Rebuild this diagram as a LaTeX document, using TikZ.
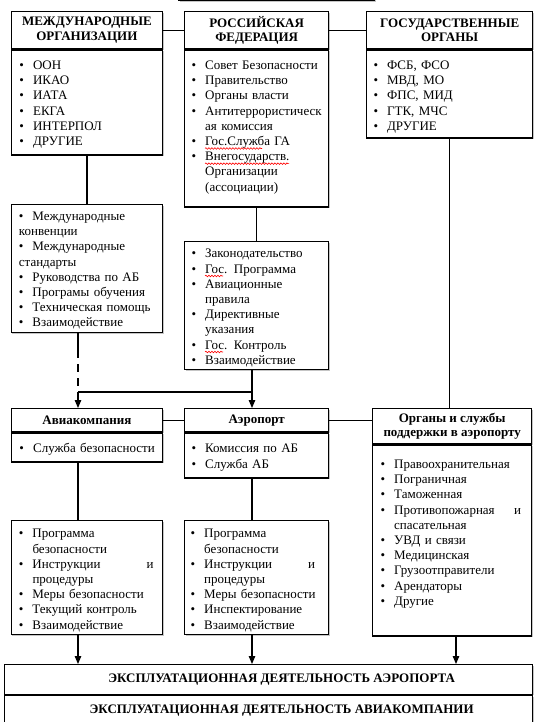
\documentclass[tikz,border=0pt]{standalone}
\usepackage{fontspec}
\setmainfont{Liberation Serif}
\usetikzlibrary{arrows.meta,shadows,decorations.pathmorphing}

\newcommand{\itm}{\makebox[13.6pt][l]{\textbullet}}
\newcommand{\cnt}{\hspace*{13.6pt}}
\newcommand{\jst}[3]{\makebox[#1][l]{#2\hfill#3}}

\tikzset{
  box/.style={draw, line width=1.3pt, fill=white, anchor=north west, inner sep=0pt,
    drop shadow={shadow xshift=1.3pt, shadow yshift=-1.3pt, fill=black!45}},
  head/.style={box, font=\fontsize{13}{14.5}\selectfont\bfseries, align=center},
  lst/.style={anchor=base west, inner sep=0pt, text width=#1, align=left},
  link/.style={line width=1.2pt},
  arr/.style={link, -{Triangle[length=8pt,width=6.5pt]}},
  spell/.style={red, line width=0.6pt, decorate, decoration={snake, amplitude=0.8pt, segment length=3pt}}
}

\begin{document}
\begin{tikzpicture}[x=1pt,y=-1pt,font=\fontsize{13}{15.2}\selectfont]
\useasboundingbox (0,0) rectangle (544,722);

% upper block (cut off)
\node[box, anchor=south west, minimum width=196pt, minimum height=30pt] (tp) at (178,1.5) {};

% top row
\node[head, minimum width=151.5pt, minimum height=37pt] (moh) at (10.5,11) {МЕЖДУНАРОДНЫЕ\\ОРГАНИЗАЦИИ};
\node[box, minimum width=151.5pt, minimum height=105pt] (mob) at (moh.south west) {};
\node[lst=140pt] (mot) at (19.3,69.5) {\itm ООН\\\itm ИКАО\\\itm ИАТА\\\itm ЕКГА\\\itm ИНТЕРПОЛ\\\itm ДРУГИЕ};

\node[head, minimum width=144pt, minimum height=37pt] (rfh) at (184,11) {РОССИЙСКАЯ\\ФЕДЕРАЦИЯ};
\node[box, minimum width=144pt, minimum height=157pt] (rfb) at (rfh.south west) {};
\node[lst=134pt] (rft) at (191.4,69.5) {\itm Совет Безопасности\\\itm Правительство\\\itm Органы власти\\
  \itm Антитеррористическ\\\cnt ая комиссия\\\itm Гос.Служба ГА\\\itm Внегосударств.\\
  \cnt Организации\\\cnt (ассоциации)};

\node[head, minimum width=166pt, minimum height=37pt] (goh) at (366,11) {ГОСУДАРСТВЕННЫЕ\\ОРГАНЫ};
\node[box, minimum width=166pt, minimum height=88pt] (gob) at (goh.south west) {};
\node[lst=150pt] (got) at (373.3,69.5) {\itm ФСБ, ФСО\\\itm МВД, МО\\\itm ФПС, МИД\\\itm ГТК, МЧС\\\itm ДРУГИЕ};

% second row
\node[box, minimum width=151.5pt, minimum height=128pt] (conv) at (10.5,204) {};
\node[lst=140pt] (cvt) at (18.7,220.5) {\itm Международные\\конвенции\\\itm Международные\\стандарты\\
  \itm Руководства по АБ\\\itm Програмы обучения\\\itm Техническая помощь\\\itm Взаимодействие};

\node[box, minimum width=144pt, minimum height=128pt] (law) at (184,241) {};
\node[lst=134pt] (lwt) at (191.4,257.8) {\itm Законодательство\\\itm Гос. Программа\\\itm Авиационные\\
  \cnt правила\\\itm Директивные\\\cnt указания\\\itm Гос. Контроль\\\itm Взаимодействие};

% spell marks
\draw[spell] (205,148.5) -- (262,148.5);
\draw[spell] (205,163.7) -- (289,163.7);
\draw[spell] (205,276) -- (223,276);
\draw[spell] (205,352) -- (223,352);

% third row
\node[head, minimum width=151.5pt, minimum height=23pt] (avh) at (10.5,408) {Авиакомпания};
\node[box, minimum width=151.5pt, minimum height=29pt] (avb) at (avh.south west) {};
\node[lst=140pt] (avt) at (19.3,452.8) {\itm Служба безопасности};

\node[head, minimum width=144pt, minimum height=23pt] (aph) at (184,408) {Аэропорт};
\node[box, minimum width=144pt, minimum height=45pt] (apb) at (aph.south west) {};
\node[lst=134pt] (apt) at (191.4,452.8) {\itm Комиссия по АБ\\\itm Служба АБ};

\node[head, minimum width=159pt, minimum height=35pt] (orgh) at (372,408) {Органы и службы\\поддержки в аэропорту};
\node[box, minimum width=159pt, minimum height=191pt] (orgb) at (orgh.south west) {};
\node[lst=150pt] (ort) at (380.4,468.5) {\itm Правоохранительная\\\itm Пограничная\\\itm Таможенная\\
  \itm\jst{127pt}{Противопожарная}{и}\\\cnt спасательная\\\itm УВД и связи\\\itm Медицинская\\
  \itm Грузоотправители\\\itm Арендаторы\\\itm Другие};

% fourth row
\node[box, minimum width=151.5pt, minimum height=114pt] (avl) at (10.5,520) {};
\node[lst=140pt] (avlt) at (18.7,537.8) {\itm Программа\\\cnt безопасности\\\itm\jst{121pt}{Инструкции}{и}\\
  \cnt процедуры\\\itm Меры безопасности\\\itm Текущий контроль\\\itm Взаимодействие};

\node[box, minimum width=144pt, minimum height=114pt] (apl) at (184,520) {};
\node[lst=134pt] (aplt) at (190.4,537.8) {\itm Программа\\\cnt безопасности\\\itm\jst{111pt}{Инструкции}{и}\\
  \cnt процедуры\\\itm Меры безопасности\\\itm Инспектирование\\\itm Взаимодействие};

% bottom
\node[box, minimum width=528.5pt, minimum height=29.5pt, font=\fontsize{13}{15}\selectfont\bfseries] (ops) at (3.5,664)
  {\hspace*{26.5pt}ЭКСПЛУАТАЦИОННАЯ ДЕЯТЕЛЬНОСТЬ АЭРОПОРТА};
\node[box, minimum width=528.5pt, text height=18pt, text depth=24pt, font=\fontsize{13}{15}\selectfont\bfseries] (opsb) at (ops.south west)
  {\hspace*{26.5pt}ЭКСПЛУАТАЦИОННАЯ ДЕЯТЕЛЬНОСТЬ АВИАКОМПАНИИ};

% links
\coordinate (jd) at (78,350);
\coordinate (jl) at (78,392);
\coordinate (jr) at (252,392);
\coordinate (jo) at (456,650);
\draw[link] (moh) -- (rfh);
\draw[link] (rfh) -- (goh);
\draw[link] (mob) -- (conv);
\draw[link] (rfb) -- (law);
\draw[link] (gob.south) -- (gob.south |- orgh.north);
\draw[link] (conv.south -| jd) -- (jd);
\draw[link, dash pattern=on 8pt off 6pt] (jd) -- (jl);
\draw[link] (jl) -- (jr);
\draw[arr] (jl) -- (avh.north -| jl);
\draw[arr] (law.south -| jr) -- (aph.north -| jr);
\draw[link] (avh) -- (aph);
\draw[link] (aph) -- (aph -| orgh.west);
\draw[link] (avb.south -| jl) -- (avl.north -| jl);
\draw[link] (apb.south -| jr) -- (apl.north -| jr);
\draw[arr] (avl.south -| jl) -- (ops.north -| jl);
\draw[arr] (apl.south -| jr) -- (ops.north -| jr);
\draw[arr] (orgb.south -| jo) -- (ops.north -| jo);
\end{tikzpicture}
\end{document}
